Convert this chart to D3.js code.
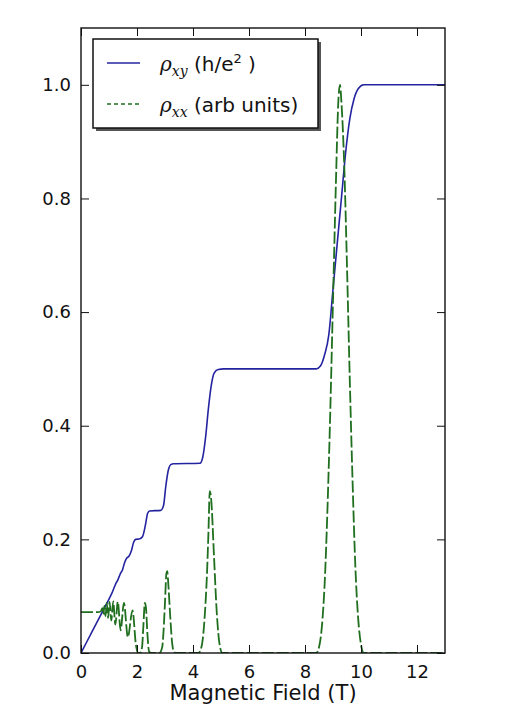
<!DOCTYPE html>
<html>
<head>
<meta charset="utf-8">
<script src="https://cdn.jsdelivr.net/npm/d3@7"></script>
<style>
  body { margin: 0; background: #fff; }
  text { font-family: "DejaVu Sans", sans-serif; fill: #111; }
  .math { font-family: "DejaVu Serif", serif; font-style: italic; }
</style>
</head>
<body>
<div id="chart"></div>
<script>
// values
const xTicks = [0, 2, 4, 6, 8, 10, 12];
const yTicks = [0, 0.2, 0.4, 0.6, 0.8, 1.0];

// Hall resistance, [field (T), rho_xy (h/e^2)]
const rhoXY = [
  [0, 0], [0.4, 0.038], [0.8, 0.076], [1.0, 0.095], [1.1, 0.105], [1.2, 0.117],
  [1.26, 0.124], [1.3, 0.127], [1.36, 0.134], [1.42, 0.141], [1.48, 0.146],
  [1.55, 0.158], [1.62, 0.166], [1.72, 0.171], [1.8, 0.18], [1.88, 0.195],
  [1.95, 0.2], [2.1, 0.201], [2.2, 0.205], [2.3, 0.225], [2.38, 0.246],
  [2.45, 0.25], [2.85, 0.251], [2.95, 0.26], [3.02, 0.29], [3.12, 0.322],
  [3.22, 0.332], [3.3, 0.333], [4.25, 0.334], [4.35, 0.345], [4.45, 0.38],
  [4.55, 0.43], [4.65, 0.47], [4.75, 0.492], [4.9, 0.499], [5.1, 0.5],
  [8.4, 0.5], [8.55, 0.505], [8.7, 0.525], [8.85, 0.56], [9.0, 0.64],
  [9.15, 0.72], [9.3, 0.8], [9.45, 0.88], [9.6, 0.94], [9.75, 0.975],
  [9.9, 0.993], [10.1, 1.0], [13, 1.0]
];

// longitudinal resistance, [field (T), rho_xx (arb units)]
const rhoXX = [
  [0, 0.072], [0.3, 0.072], [0.6, 0.072], [0.7, 0.073],
  [0.767, 0.079], [0.8, 0.068], [0.836, 0.083], [0.876, 0.065], [0.92, 0.088],
  [0.968, 0.062], [1.022, 0.09], [1.082, 0.057], [1.15, 0.091], [1.227, 0.05],
  [1.314, 0.09], [1.415, 0.04], [1.533, 0.088], [1.673, 0.028], [1.84, 0.075],
  [1.96, 0.015], [2.03, 0], [2.1, 0],
  [2.18, 0.01], [2.23, 0.05], [2.28, 0.088], [2.32, 0.08], [2.37, 0.035],
  [2.43, 0.003], [2.5, 0],
  [2.8, 0], [2.9, 0.01], [2.95, 0.04], [3.0, 0.09], [3.05, 0.14], [3.08, 0.144],
  [3.12, 0.12], [3.18, 0.07], [3.25, 0.02], [3.32, 0.002], [3.4, 0],
  [4.2, 0], [4.25, 0.003], [4.35, 0.025], [4.45, 0.09], [4.5, 0.14], [4.55, 0.21],
  [4.6, 0.285], [4.65, 0.27], [4.75, 0.17], [4.85, 0.07], [4.95, 0.015], [5.05, 0],
  [8.4, 0], [8.5, 0.01], [8.6, 0.045], [8.7, 0.12], [8.8, 0.25], [8.9, 0.42],
  [9.0, 0.62], [9.1, 0.82], [9.2, 0.98], [9.25, 1.0], [9.3, 0.97], [9.4, 0.86],
  [9.5, 0.68], [9.6, 0.48], [9.7, 0.3], [9.8, 0.15], [9.9, 0.06], [10.0, 0.015],
  [10.1, 0], [13, 0]
];

const width = 527;
const height = 714;
const margin = { top: 28, right: 82, bottom: 61, left: 81 };
const blue = '#2424a0';
const green = '#1f6f1f';

const svg = d3.select('#chart').append('svg')
  .attr('width', width)
  .attr('height', height);

const x = d3.scaleLinear()
  .domain([0, 13])
  .range([margin.left, width - margin.right]);

const y = d3.scaleLinear()
  .domain([0, 1.1])
  .range([height - margin.bottom, margin.top]);

const line = d3.line()
  .x(d => x(d[0]))
  .y(d => y(d[1]))
  .curve(d3.curveMonotoneX);

const plot = svg.append('g');
plot.append('clipPath').attr('id', 'clip')
  .append('rect')
    .attr('x', margin.left).attr('y', margin.top)
    .attr('width', x.range()[1] - x.range()[0])
    .attr('height', y.range()[0] - y.range()[1]);

plot.append('path')
  .datum(rhoXY)
  .attr('clip-path', 'url(#clip)')
  .attr('fill', 'none')
  .attr('stroke', blue)
  .attr('stroke-width', 1.6)
  .attr('d', line);

plot.append('path')
  .datum(rhoXX)
  .attr('clip-path', 'url(#clip)')
  .attr('fill', 'none')
  .attr('stroke', green)
  .attr('stroke-width', 1.8)
  .attr('stroke-dasharray', '12,3')
  .attr('d', line);

// axes, ticks pointing inward on all four sides
const tickLen = 8;
svg.append('g')
  .attr('transform', `translate(0,${y(0)})`)
  .call(d3.axisBottom(x).tickValues(xTicks).tickSize(-tickLen).tickPadding(12).tickFormat(d3.format('d')))
  .call(g => g.selectAll('text').attr('font-size', 18).attr('font-family', 'DejaVu Sans'));

svg.append('g')
  .attr('transform', `translate(0,${y(1.1)})`)
  .call(d3.axisTop(x).tickValues(xTicks).tickSize(-tickLen).tickFormat(''));

svg.append('g')
  .attr('transform', `translate(${x(0)},0)`)
  .call(d3.axisLeft(y).tickValues(yTicks).tickSize(-tickLen).tickPadding(10).tickFormat(d3.format('.1f')))
  .call(g => g.selectAll('text').attr('font-size', 18).attr('font-family', 'DejaVu Sans'));

svg.append('g')
  .attr('transform', `translate(${x(13)},0)`)
  .call(d3.axisRight(y).tickValues(yTicks).tickSize(-tickLen).tickFormat(''));

svg.selectAll('.domain').remove();
svg.selectAll('.tick line').attr('stroke', '#111');

svg.append('rect')
  .attr('x', x(0)).attr('y', y(1.1))
  .attr('width', x(13) - x(0))
  .attr('height', y(0) - y(1.1))
  .attr('fill', 'none')
  .attr('stroke', '#111')
  .attr('stroke-width', 1.4);

svg.append('text')
  .attr('x', (x(0) + x(13)) / 2)
  .attr('y', 700)
  .attr('text-anchor', 'middle')
  .attr('font-size', 21)
  .text('Magnetic Field (T)');

// legend
const legend = svg.append('g').attr('transform', 'translate(93,39)');
legend.append('rect')
  .attr('x', 3).attr('y', 3).attr('width', 225).attr('height', 89)
  .attr('fill', '#555');
legend.append('rect')
  .attr('width', 225).attr('height', 89)
  .attr('fill', '#fff').attr('stroke', '#111').attr('stroke-width', 1.5);

const rows = [
  { sub: 'xy', color: blue, dash: null, y: 24 },
  { sub: 'xx', color: green, dash: '4,3', y: 65 }
];
rows.forEach(r => {
  legend.append('line')
    .attr('x1', 14).attr('x2', 47)
    .attr('y1', r.y).attr('y2', r.y)
    .attr('stroke', r.color)
    .attr('stroke-width', 1.6)
    .attr('stroke-dasharray', r.dash);
});

const t1 = legend.append('text').attr('x', 67).attr('y', 32).attr('font-size', 20);
t1.append('tspan').attr('class', 'math').text('ρ');
t1.append('tspan').attr('class', 'math').attr('font-size', 14).attr('dy', 5).text('xy');
t1.append('tspan').attr('dy', -5).text(' (h/e');
t1.append('tspan').attr('font-size', 13).attr('dy', -8).text('2');
t1.append('tspan').attr('dy', 8).text(' )');

const t2 = legend.append('text').attr('x', 67).attr('y', 73).attr('font-size', 20);
t2.append('tspan').attr('class', 'math').text('ρ');
t2.append('tspan').attr('class', 'math').attr('font-size', 14).attr('dy', 5).text('xx');
t2.append('tspan').attr('dy', -5).text(' (arb units)');
</script>
</body>
</html>
